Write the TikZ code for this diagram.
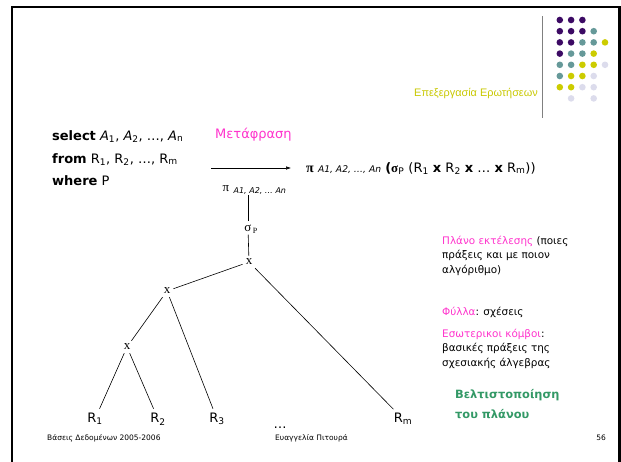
\documentclass[tikz,border=0pt]{standalone}
\usepackage{fontspec}
\setmainfont{DejaVu Sans}
\newfontfamily\treefont{Liberation Serif}
\newfontfamily\titlefont{Liberation Sans}
\usetikzlibrary{positioning,arrows.meta}
\definecolor{pinkgr}{HTML}{FF33CC}
\definecolor{titlegr}{HTML}{C8C800}
\definecolor{greengr}{HTML}{339966}
\definecolor{dotP}{HTML}{3C0A64}
\definecolor{dotT}{HTML}{669999}
\definecolor{dotY}{HTML}{CCCC00}
\definecolor{dotL}{HTML}{DCDCEC}
\newcommand{\lowidx}[1]{\textsubscript{#1}}

\tikzset{
  qtext/.style={font=\fontsize{13}{15}\selectfont, inner sep=0pt, anchor=base west},
  note/.style={font=\fontsize{10.4}{14.3}\selectfont, inner sep=0pt, anchor=north west, align=left},
  opnode/.style={font=\treefont\fontsize{13}{13}\selectfont, inner sep=3pt},
  opsub/.style={font=\fontsize{8}{8}\selectfont, inner sep=0pt, anchor=base west},
  relnode/.style={font=\fontsize{13}{13}\selectfont, inner sep=4pt},
  edge/.style={draw, line width=0.6pt},
  dot/.style={circle, fill=#1, inner sep=0pt, minimum size=6.6pt},
}

\begin{document}
\begin{tikzpicture}[x=1pt,y=-1pt]
\useasboundingbox (0,0) rectangle (621,461);
% frame
\draw[line width=2.2pt] (12,462) -- (12,7) -- (619.5,7) -- (619.5,462);
% logo
\draw[gray, line width=1.3pt] (542.7,16) -- (542.7,118);
\foreach \c/\r/\col in {1/1/dotP,2/1/dotP,3/1/dotP,
  1/2/dotP,2/2/dotP,3/2/dotP,4/2/dotT,
  1/3/dotP,2/3/dotP,3/3/dotT,4/3/dotT,5/3/dotY,
  1/4/dotP,2/4/dotT,3/4/dotT,4/4/dotY,
  1/5/dotT,2/5/dotT,3/5/dotY,4/5/dotY,5/5/dotL,
  1/6/dotT,2/6/dotY,3/6/dotY,4/6/dotL,
  1/7/dotY,2/7/dotY,3/7/dotL,4/7/dotL,
  2/8/dotL,4/8/dotL}
  \node[dot=\col] at ({548.5+11.3*\c},{8.8+11.2*\r}) {};
\node[font=\titlefont\fontsize{10.9}{13}\selectfont, text=titlegr, inner sep=0pt, anchor=base east] (title) at (538,96) {Επεξεργασία Ερωτήσεων};

% query
\node[qtext] (sel) at (52,140) {\textbf{select} \textit{A}\lowidx{1}, \textit{A}\lowidx{2}, …, \textit{A}\lowidx{n}};
\node[qtext] (frm) at (52,163) {\textbf{from} R\lowidx{1}, R\lowidx{2}, …, R\lowidx{m}};
\node[qtext] (whr) at (52,185) {\textbf{where} P};
\node[qtext, text=pinkgr] (trans) at (215,138) {Μετάφραση};
\coordinate (arrs) at (211,168);
\coordinate (arre) at (291,168);
\draw[-{Latex[length=5pt,width=3.5pt]}, line width=0.5pt] (arrs) -- (arre);
\node[qtext] (expr) at (306,172) {{\treefont\bfseries\fontsize{14}{14}\selectfont π} {\fontsize{9.2}{9}\selectfont\itshape A1, A2, …, An} {\bfseries(}{\treefont\bfseries σ}\lowidx{P} (R\lowidx{1} \textbf{x} R\lowidx{2} \textbf{x} … \textbf{x} R\lowidx{m}))};

% plan tree
\node[opnode] (pi) at (226,189) {π};
\node[opsub] (pisub) at ([xshift=1pt,yshift=-2pt]pi.base east) {\itshape A1, A2, … An};
\node[opnode] (sig) at (248,228) {σ};
\node[opsub, font=\treefont\fontsize{8}{8}\selectfont] (sigsub) at ([xshift=-2pt,yshift=-2pt]sig.base east) {P};
\node[opnode] (x0) at (249,262) {x};
\node[opnode] (x1) at (167,291) {x};
\node[opnode] (x2) at (127,347) {x};
\node[relnode] (r1) at (95,419) {R\lowidx{1}};
\node[relnode] (r2) at (158,419) {R\lowidx{2}};
\node[relnode] (r3) at (217,419) {R\lowidx{3}};
\node[relnode] (dots) at (280,428) {…};
\node[relnode] (rm) at (403,419) {R\lowidx{m}};
\draw[edge] (sig |- pi.south) -- (sig);
\draw[edge] (sig) -- (x0);
\draw[edge] (x0) -- (x1);
\draw[edge] (x0) -- (rm);
\draw[edge] (x1) -- (x2);
\draw[edge] (x1) -- (r3);
\draw[edge] (x2) -- (r1);
\draw[edge] (x2) -- (r2);

% notes
\node[note] (plan) at (442,236) {\textcolor{pinkgr}{Πλάνο εκτέλεσης} (ποιες\\πράξεις και με ποιον\\αλγόριθμο)};
\node[note] (leaf) at (442,307) {\textcolor{pinkgr}{Φύλλα}: σχέσεις};
\node[note] (inner) at (442,329) {\textcolor{pinkgr}{Εσωτερικοι κόμβοι}:\\βασικές πράξεις της\\σχεσιακής άλγεβρας};
\node[note, font=\bfseries\fontsize{11.4}{20}\selectfont, text=greengr] (opt) at (455,389) {Βελτιστοποίηση\\του πλάνου};

% footer
\node[font=\fontsize{7.5}{8}\selectfont, inner sep=0pt, anchor=base west] (foot1) at (47,440) {Βάσεις Δεδομένων 2005-2006};
\node[font=\fontsize{7.5}{8}\selectfont, inner sep=0pt, anchor=base west] (foot2) at (275,440) {Ευαγγελία Πιτουρά};
\node[font=\fontsize{7.5}{8}\selectfont, inner sep=0pt, anchor=base east] (foot3) at (606,440) {56};
\end{tikzpicture}
\end{document}
